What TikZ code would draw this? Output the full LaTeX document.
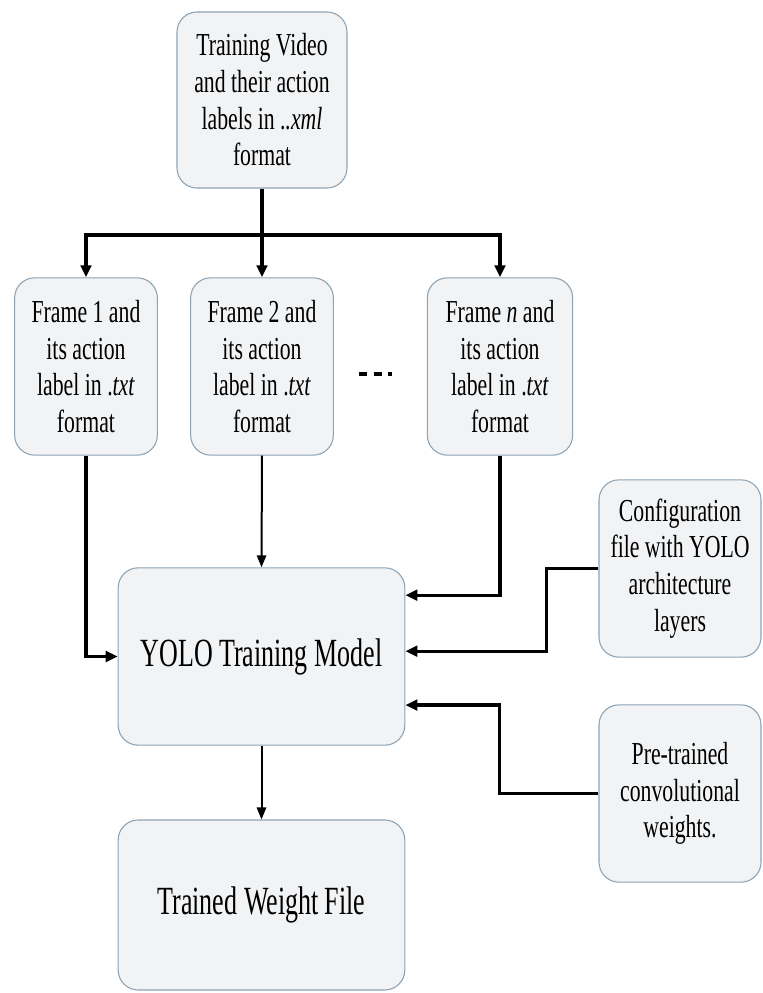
\documentclass[tikz,border=0pt]{standalone}
\usepackage{fontspec}
\setmainfont{Liberation Serif}[FakeStretch=0.68]
\newfontfamily\bigfont{Liberation Serif}[FakeStretch=0.65]
\usetikzlibrary{arrows.meta}
\definecolor{boxfill}{HTML}{F2F3F5}
\definecolor{boxline}{HTML}{8CA3B4}

\begin{document}
\begin{tikzpicture}[x=0.75pt,y=-0.75pt,
    box/.style={draw=boxline, fill=boxfill, rounded corners=15pt, line width=0.8pt,
        align=center, inner sep=0pt, font=\fontsize{24}{27.5}\selectfont},
    bigbox/.style={box, font=\bigfont\fontsize{30}{34}\selectfont},
    wire/.style={line width=2.4pt, -{Triangle[length=9pt,width=8pt]}},
    thinwire/.style={line width=1.5pt, -{Triangle[length=9pt,width=7pt]}}]
    \useasboundingbox (0,0) rectangle (763,993);
    % input video
    \node[box, minimum width=127.5pt, minimum height=132pt] (video) at (262,100)
        {Training Video\\and their action\\labels in .\textit{.xml}\\format};
    % frames
    \node[box, minimum width=107pt, minimum height=133pt] (frame1) at (86,366.5)
        {Frame 1 and\\its action\\label in .\textit{txt}\\format};
    \node[box, minimum width=107pt, minimum height=133pt] (frame2) at (262,366.5)
        {Frame 2 and\\its action\\label in .\textit{txt}\\format};
    \node[box, minimum width=109pt, minimum height=133pt] (framen) at (500,366.5)
        {Frame \textit{n} and\\its action\\label in .\textit{txt}\\format};
    \draw[line width=3pt, dash pattern=on 6pt off 5pt] (359,374) -- (392,374);
    % model and side inputs
    \node[bigbox, minimum width=215pt, minimum height=133pt] (yolo) at (261.5,656.5)
        {YOLO Training Model};
    \node[box, minimum width=121.5pt, minimum height=133pt] (config) at (680,568.5)
        {Configuration\\file with YOLO\\architecture\\layers};
    \node[box, minimum width=121.5pt, minimum height=133pt] (pretrained) at (680,793.5)
        {Pre-trained\\convolutional\\weights.};
    \node[bigbox, minimum width=215pt, minimum height=127.5pt] (trained) at (261.5,905)
        {Trained Weight File};
    % connectors
    \coordinate (split) at (video.south |- 0,235);
    \draw[line width=2.4pt] (video.south) -- (split);
    \draw[wire] (split) -| (frame1.north);
    \draw[wire] (split) -- (frame2.north);
    \draw[wire] (split) -| (framen.north);
    \draw[wire] (frame1.south) |- (yolo.west);
    \draw[thinwire] (frame2.south) -- (yolo.north);
    \draw[wire] (framen.south) |- ([yshift=46pt]yolo.east);
    \draw[wire] (config.west) -- ++(-52,0) |- ([yshift=4pt]yolo.east);
    \draw[wire] (pretrained.west) -- ++(-99,0) |- ([yshift=-36.4pt]yolo.east);
    \draw[thinwire] (yolo.south) -- (trained.north);
\end{tikzpicture}
\end{document}
